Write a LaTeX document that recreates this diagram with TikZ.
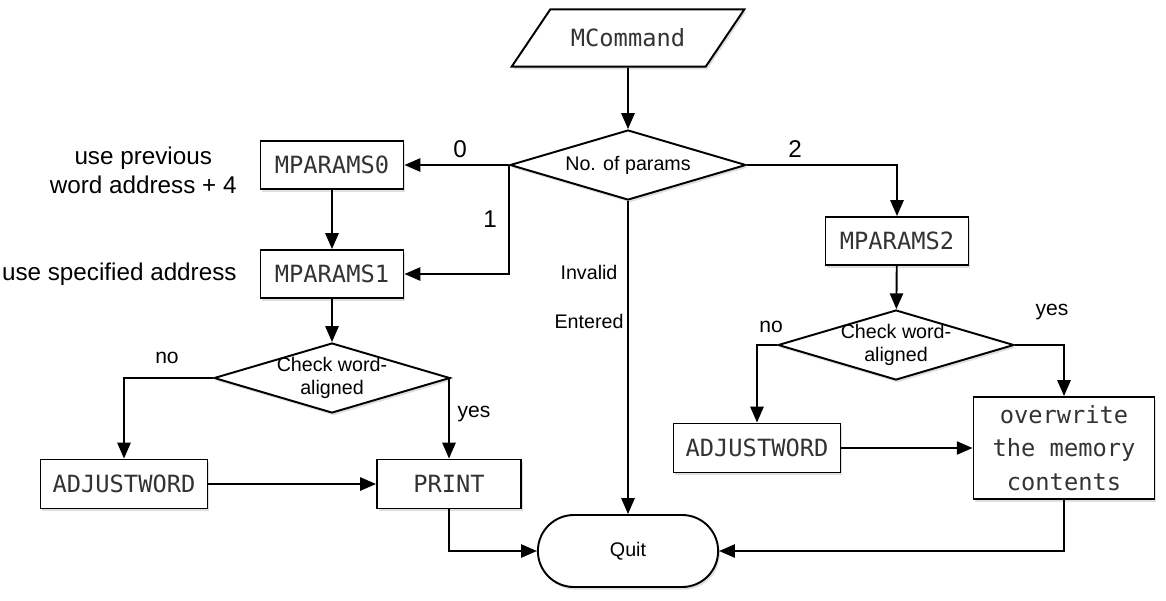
\documentclass[tikz,border=0pt]{standalone}
\usepackage{fontspec}
\setmainfont{Liberation Sans}
\setmonofont{DejaVu Sans Mono}
\usetikzlibrary{arrows.meta, positioning, shapes.geometric, shapes.misc, shadows}
\def\boxfont{\ttfamily\fontsize{13.5}{19}\selectfont}
\def\smallfont{\fontsize{11.2}{13.5}\selectfont}

\begin{document}
\begin{tikzpicture}[x=0.02cm, y=-0.02cm, line width=1.1pt, >={Triangle[length=9pt,width=7.5pt]}]
    \tikzstyle{boxshadow}=[drop shadow={opacity=0.25, shadow xshift=1pt, shadow yshift=-1.5pt}]
    \tikzstyle{process}=[rectangle, draw, fill=white, boxshadow, minimum width=2.86cm, minimum height=0.96cm, inner sep=2pt, font=\boxfont, text=black!80]
    \tikzstyle{wide process}=[process, minimum width=3.34cm, minimum height=0.98cm]
    \tikzstyle{decision}=[diamond, aspect=3.37, draw, fill=white, boxshadow, minimum width=4.72cm, minimum height=1.4cm, inner xsep=0pt, inner ysep=-1.5pt, align=center, font=\smallfont]
    \tikzstyle{annot}=[align=center, inner sep=0pt, font=\fontsize{13.8}{16.5}\selectfont]
    \tikzstyle{branch}=[font=\fontsize{13.8}{16}\selectfont]
    \tikzstyle{answer}=[font=\fontsize{12}{14}\selectfont]
    \tikzstyle{note}=[font=\smallfont]

    \useasboundingbox (0,0) rectangle (1166,600);

    % Start and the first decision
    \node[trapezium, trapezium left angle=56, trapezium right angle=124,
        draw, fill=white, boxshadow, inner xsep=11.7pt, inner ysep=11.1pt,
        font=\boxfont, text=black!80] (cmd) at (628,38) {MCommand};
    \node[decision] (params) at (628,165) {No. of params};

    % Left branch
    \node[process] (p0) at (332,165) {MPARAMS0};
    \node[process] (p1) at (332,274) {MPARAMS1};
    \node[decision] (chk1) at (332,378) {Check word-\\aligned};
    \node[wide process] (adj1) at (124,484) {ADJUSTWORD};
    \node[process, minimum width=2.88cm, minimum height=0.98cm] (print) at (449,484) {PRINT};

    \node[annot, left=0.44cm of p0, yshift=-3pt] (n0) {use previous\\word address + 4};
    \node[annot, left=0.44cm of p1] (n1) {use specified address};

    % Right branch
    \node[process] (p2) at (897,241) {MPARAMS2};
    \node[decision] (chk2) at (896,345) {Check word-\\aligned};
    \node[wide process] (adj2) at (757,448) {ADJUSTWORD};
    \node[process, minimum width=3.62cm, minimum height=2.04cm, align=center] (ovw) at (1064,448) {overwrite\\the memory\\contents};

    % End
    \node[rounded rectangle, draw, fill=white, boxshadow, minimum width=3.84cm, minimum height=1.44cm,
        font=\smallfont] (quit) at (628,551) {Quit};

    % Connect the nodes
    \draw[->] (cmd) -- (params);
    \draw[->] (params.west) -- (p0.east);
    \draw[->] (params.west) |- (p1.east);
    \draw[->] (params.east) -| (p2.north);
    \draw[->] (params.south) -- (quit.north);

    \draw[->] (p0) -- (p1);
    \draw[->] (p1) -- (chk1);
    \draw[->] (chk1.west) -| (adj1.north);
    \draw[->] (chk1.east) -| (print.north);
    \draw[->] (adj1) -- (print);
    \draw[->] (print.south) |- (quit.west);

    \draw[->] (p2) -- (chk2);
    \draw[->] (chk2.west) -| (adj2.north);
    \draw[->] (chk2.east) -| (ovw.north);
    \draw[->] (adj2) -- (ovw);
    \draw[->] (ovw.south) |- (quit.east);

    % Labels on the connectors
    \node[branch] (l0) at (460,149) {0};
    \node[branch] (l1) at (490,219) {1};
    \node[branch] (l2) at (795,149) {2};
    \node[note] (inv) at (589,272) {Invalid};
    \node[note] (ent) at (589,321) {Entered};
    \node[answer] (no1) at (167,358) {no};
    \node[answer] (yes1) at (474,414) {yes};
    \node[answer] (no2) at (771,327) {no};
    \node[answer] (yes2) at (1052,312) {yes};
\end{tikzpicture}
\end{document}
